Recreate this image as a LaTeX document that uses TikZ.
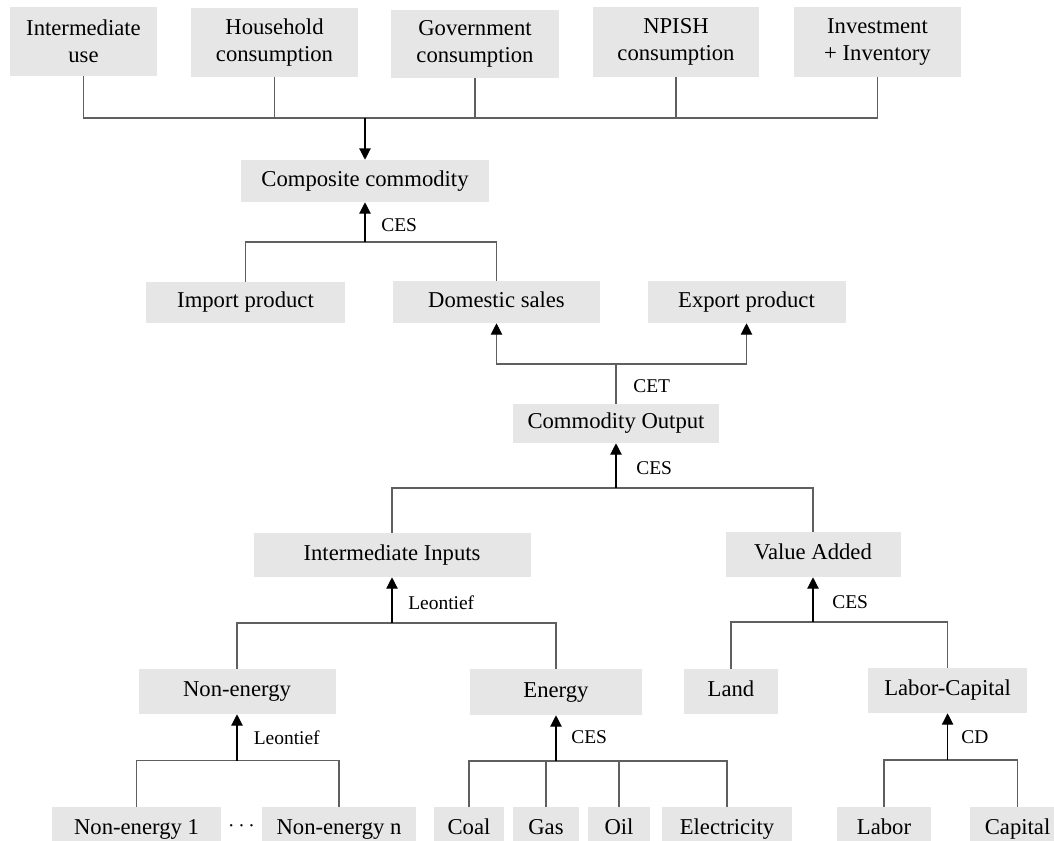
\documentclass[tikz,border=0pt]{standalone}
\usepackage{fontspec}
\setmainfont{Liberation Serif}
\usetikzlibrary{arrows.meta}
\definecolor{boxgray}{RGB}{230,230,230}
\definecolor{linegray}{RGB}{95,95,95}
\newcommand\boxfont{\fontsize{17}{20.3}\selectfont}
\newcommand\labfont{\fontsize{14.6}{17}\selectfont}
\tikzset{
  box/.style={fill=boxgray, inner sep=0pt, align=center, font=\boxfont},
  one/.style={text height=11.6pt, text depth=3.6pt},
  sz/.style 2 args={minimum width=#1*0.75pt, minimum height=#2*0.75pt},
  link/.style={draw=linegray, line width=0.8pt},
  feed/.style={draw=black, line width=0.9pt, -{Triangle[width=8.5pt,length=8.5pt]}},
  split/.style={draw=linegray, line width=0.8pt, -{Triangle[width=8.5pt,length=8.5pt,color=black]}},
  fn/.style={anchor=west, inner sep=0pt, font=\labfont},
}
\begin{document}
\begin{tikzpicture}[x=0.75pt,y=-0.75pt]
\path[use as bounding box] (0,0) rectangle (1054,840);
\clip (0,0) rectangle (1054,840);

% final demand
\node[box, sz={147}{69}] (iu)  at (83.5,41.5)  {Intermediate\\use};
\node[box, sz={167}{69}] (hh)  at (274.5,42.5) {Household\\consumption};
\node[box, sz={168}{68}] (gov) at (475,44)     {Government\\consumption};
\node[box, sz={166}{70}] (np)  at (676,42)     {NPISH\\consumption};
\node[box, sz={167}{70}] (inv) at (877.5,42)   {Investment\\+ Inventory};

% Armington / CET level
\node[box, one, sz={248}{42}] (cc)  at (365,181)    {Composite commodity};
\node[box, one, sz={199}{41}] (imp) at (245.5,302.5){Import product};
\node[box, one, sz={207}{42}] (dom) at (496.5,302)  {Domestic sales};
\node[box, one, sz={198}{42}] (exp) at (746.5,302)  {Export product};
\node[box, one, sz={206}{39}] (co)  at (616,423.5)  {Commodity Output};

% production
\node[box, one, sz={277}{44}] (ii)  at (392,555)    {Intermediate Inputs};
\node[box, one, sz={175}{45}] (va)  at (813,554.5)  {Value Added};
\node[box, one, sz={197}{45}] (ne)  at (237,691.5)  {Non-energy};
\node[box, one, sz={172}{46}] (en)  at (556,692)    {Energy};
\node[box, one, sz={94}{45}]  (ld)  at (731,691.5)  {Land};
\node[box, one, sz={159}{45}] (lk)  at (947.6,690.5){Labor-Capital};

% bottom row
\node[box, one, sz={169}{44}] (ne1) at (136.5,829)  {Non-energy 1};
\node[inner sep=0pt, font=\boxfont] (dots) at (241.5,826) {$\cdots$};
\node[box, one, sz={154}{44}] (nen) at (339,829)    {Non-energy n};
\node[box, one, sz={70}{44}]  (coal) at (469,829)   {Coal};
\node[box, one, sz={66}{44}]  (gas) at (546,829)    {Gas};
\node[box, one, sz={62}{44}]  (oil) at (619,829)    {Oil};
\node[box, one, sz={130}{44}] (el)  at (727,829)    {Electricity};
\node[box, one, sz={94}{44}]  (lab) at (884,829)    {Labor};
\node[box, one, sz={96}{44}]  (cap) at (1017.6,829) {Capital};

% junction points
\coordinate (j0) at (365,118);
\coordinate (j1) at (365,242);
\coordinate (j2) at (616,364);
\coordinate (j3) at (616,488);
\coordinate (j4) at (392,623);
\coordinate (j5) at (813,622);
\coordinate (j6) at (237,760.5);
\coordinate (j7) at (556,761);
\coordinate (j8) at (947.6,760);

% demand aggregation
\foreach \n in {iu,hh,gov,np,inv} \draw[link] (\n.south) |- (j0);
\draw[feed] (j0) -- (j0 |- cc.north);

% CES: imports and domestic sales
\draw[link] (imp.north) |- (j1);
\draw[link] (dom.north) |- (j1);
\draw[feed] (j1) -- (j1 |- cc.south);
\node[fn] (l1) at (381,225) {CES};

% CET: output split
\draw[link] (co.north) -- (j2);
\draw[split] (j2) -| (dom.south);
\draw[split] (j2) -| (exp.south);
\node[fn] (l2) at (633,386) {CET};

% CES: intermediate inputs and value added
\draw[link] (ii.north) |- (j3);
\draw[link] (va.north) |- (j3);
\draw[feed] (j3) -- (j3 |- co.south);
\node[fn] (l3) at (636,468) {CES};

% Leontief: non-energy and energy
\draw[link] (ne.north) |- (j4);
\draw[link] (en.north) |- (j4);
\draw[feed] (j4) -- (j4 |- ii.south);
\node[fn] (l4) at (408,603) {Leontief};

% CES: land and labor-capital
\draw[link] (ld.north) |- (j5);
\draw[link] (lk.north) |- (j5);
\draw[feed] (j5) -- (j5 |- va.south);
\node[fn] (l5) at (832,602) {CES};

% Leontief: non-energy goods
\draw[link] (ne1.north) |- (j6);
\draw[link] (nen.north) |- (j6);
\draw[feed] (j6) -- (j6 |- ne.south);
\node[fn] (l6) at (253.5,737.5) {Leontief};

% CES: energy goods
\foreach \n in {coal,gas,oil,el} \draw[link] (\n.north) |- (j7);
\draw[feed] (j7) -- (j7 |- en.south);
\node[fn] (l7) at (571,737.5) {CES};

% Cobb-Douglas: labor and capital
\draw[link] (lab.north) |- (j8);
\draw[link] (cap.north) |- (j8);
\draw[feed] (j8) -- (j8 |- lk.south);
\node[fn] (l8) at (961,737.5) {CD};
\end{tikzpicture}
\end{document}
